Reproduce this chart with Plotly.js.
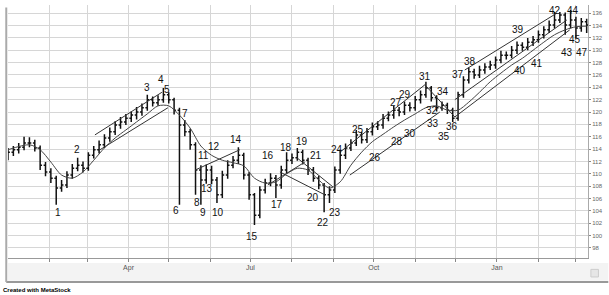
<!DOCTYPE html>
<html><head><meta charset="utf-8">
<script src="https://cdn.plot.ly/plotly-3.0.1.min.js"></script>
<style>body{margin:0;background:#fff}#c{width:609px;height:295px}</style>
</head><body><div id="c"></div>
<script>
// Bars: day index (days since 1 Jan) and OHLC prices
const days = [0,4,8,12,16,20,24,28,32,36,40,44,48,52,56,60,64,68,72,76,80,84,88,92,96,100,104,108,112,116,120,124,128,132,136,140,144,148,152,156,160,164,168,172,176,180,184,188,192,196,200,204,208,212,216,220,224,228,232,236,240,244,248,252,256,260,264,268,272,276,280,284,288,292,296,300,304,308,312,316,320,324,328,332,336,340,344,348,352,356,360,364,368,372,376,380,384,388,392,396,400,404,408,412,416,420,424,428,432];
const opens = [113.0,113.5,113.9,114.3,115.0,115.0,114.2,111.4,110.3,109.3,107.7,108.2,109.8,110.9,111.4,110.9,113.0,113.9,114.7,115.8,116.8,117.9,118.4,119.0,119.5,120.0,120.7,122.0,121.5,122.0,122.8,122.0,120.3,117.9,116.8,114.7,110.6,109.0,110.6,109.0,106.6,109.8,111.4,112.2,113.0,109.8,106.6,103.3,107.4,108.5,109.3,108.2,110.6,112.2,112.6,113.5,112.2,110.6,109.3,108.2,106.6,107.4,110.6,113.0,114.2,115.0,116.3,115.5,116.8,117.6,117.9,119.0,119.5,120.3,120.0,121.1,120.7,122.0,122.8,123.9,122.3,120.7,121.1,120.3,119.0,122.8,125.2,126.5,126.0,126.8,127.3,127.6,128.4,129.2,129.2,130.0,130.8,130.5,131.3,131.7,132.5,133.3,134.1,134.9,135.7,134.1,134.9,133.6,134.6];
const highs = [114.2,114.5,115.0,116.0,115.9,115.5,114.6,111.9,110.9,109.7,109.0,110.4,111.6,112.6,112.0,113.5,114.5,115.4,116.4,117.5,118.5,119.2,119.7,120.1,120.8,121.4,122.8,122.5,122.7,123.9,123.2,122.3,120.7,118.7,117.3,115.1,111.4,111.5,111.3,109.5,110.5,112.2,112.9,114.3,113.4,110.3,106.9,108.0,109.2,110.1,109.8,111.3,113.5,113.3,114.2,113.9,112.6,111.1,109.7,108.5,108.0,111.2,113.9,114.9,115.6,117.1,116.8,117.4,118.3,118.5,119.7,120.1,121.0,120.8,121.7,121.6,122.6,123.5,124.9,124.2,122.7,121.7,121.5,120.7,123.3,125.8,127.2,127.0,127.5,127.9,128.3,129.0,129.9,129.8,130.7,131.4,131.3,132.0,132.3,133.2,133.9,134.8,136.2,136.2,136.1,136.5,135.4,135.2,135.1];
const lows = [112.2,112.9,113.3,113.8,114.3,113.6,110.6,109.6,108.5,105.0,107.1,107.7,109.2,110.4,110.2,110.5,112.5,113.3,114.2,115.2,116.3,117.3,117.9,118.4,118.8,119.4,120.2,120.9,121.0,121.5,121.4,119.6,105.0,116.1,113.9,106.6,105.0,108.4,108.3,105.3,106.1,109.2,110.9,111.6,109.1,105.8,101.7,102.8,106.8,108.0,106.1,107.6,110.1,111.6,112.1,111.5,109.8,108.7,107.5,103.8,105.3,106.9,110.0,112.4,113.7,114.5,114.9,115.0,116.2,117.1,117.3,118.5,118.9,119.3,119.5,120.1,120.2,121.4,122.3,121.7,120.1,120.2,119.7,118.4,118.6,122.3,124.6,125.4,125.5,126.2,126.8,127.0,127.9,128.5,128.7,129.4,129.9,130.0,130.7,131.2,131.9,132.8,133.5,134.4,132.5,133.5,132.0,133.0,132.8];
const closes = [113.5,113.9,114.3,115.0,115.0,114.2,111.4,110.3,109.3,107.7,108.2,109.8,110.9,111.4,110.9,113.0,113.9,114.7,115.8,116.8,117.9,118.4,119.0,119.5,120.0,120.7,122.0,121.5,122.0,122.8,122.0,120.3,117.9,116.8,114.7,110.6,109.0,110.6,109.0,106.6,109.8,111.4,112.2,113.0,109.8,106.6,103.3,107.4,108.5,109.3,108.2,110.6,112.2,112.6,113.5,112.2,110.6,109.3,108.2,106.6,107.4,110.6,113.0,114.2,115.0,116.3,115.5,116.8,117.6,117.9,119.0,119.5,120.3,120.0,121.1,120.7,122.0,122.8,123.9,122.3,120.7,121.1,120.3,119.0,122.8,125.2,126.5,126.0,126.8,127.3,127.6,128.4,129.2,129.2,130.0,130.8,130.5,131.3,131.7,132.5,133.3,134.1,134.9,135.7,134.1,134.9,133.6,134.6,134.1];

// Moving average
const maDays = [0,16,24,32,40,48,56,64,72,80,88,96,104,112,120,128,136,144,152,160,168,176,184,192,200,208,216,224,232,240,248,256,264,272,280,288,296,304,312,320,328,336,344,352,360,368,376,384,392,400,408,416,424,432];
const maVals = [113.9,114.7,113.9,111.9,109.8,109.3,110.3,112.2,114.2,115.8,117.1,118.4,119.7,121.0,121.0,119.5,117.4,114.5,113.0,112.2,111.8,111.3,109.3,108.5,108.7,110.0,110.9,110.6,109.0,107.7,108.7,111.4,113.5,115.2,116.4,117.6,118.7,119.7,120.7,121.0,120.3,120.3,121.6,123.2,124.9,126.3,127.6,128.7,130.0,131.3,132.5,133.3,133.8,133.9];

// Trend lines: start/end day and price
const tlDay0 = [64.9,68.7,139.6,194,215.7,203,247.8,255.2,311.2,341,333.6,333.6];
const tlDay1 = [114.9,119.4,173.1,221.6,242.5,236.6,311.2,322.4,333.6,409.7,417.2,419.4];
const tlP0 = [116.3,113.9,110.6,108.2,112.6,110.3,113.5,109.8,124.4,126.8,122.0,119.2];
const tlP1 = [123.2,120.7,113.9,111.9,107.9,106.6,124.4,120.0,119.2,136.0,134.9,133.3];

// Wave labels
const lblText = ['1','2','3','4','5','6','7','8','9','10','11','12','13','14','15','16','17','18','19','20','21','22','23','24','25','26','27','28','29','30','31','32','33','34','35','36','37','38','39','40','41','42','43','44','45','47'];
const lblDay = [37.3,51.5,103.7,114.2,118.7,125.4,132.1,141,145.5,156.7,146,153.7,148.5,170.1,182,194,200.7,207.5,219.4,227.6,230,235,244,245.5,261.2,273.9,289.6,290.3,296.3,300,311.2,316.4,317.2,324.6,325.4,331.3,335.8,344.8,380.6,382.1,394.8,408.2,417.2,421.6,423.1,428.5];
const lblPrice = [103.8,113.9,123.9,125.2,123.7,104.1,119.8,105.3,103.8,103.8,113.0,114.5,107.6,115.5,99.9,113.0,105.0,114.2,115.3,106.1,113.0,102.2,103.8,113.9,117.1,112.7,121.5,115.3,122.8,116.6,125.7,120.3,118.1,123.4,116.1,117.7,126.0,128.1,133.3,126.8,127.9,136.5,129.7,136.5,131.7,129.7];

// Axis ticks
const monthDays = [31,59,90,120,151,181,212,243,273,304,334,365,396,424];
const monthText = ['','','Apr','','','Jul','','','Oct','','','Jan','',''];
const priceTicks = [98,100,102,104,106,108,110,112,114,116,118,120,122,124,126,128,130,132,134,136];

const tlx = [], tly = [];
for (let i = 0; i < tlDay0.length; i++) { tlx.push(tlDay0[i], tlDay1[i], null); tly.push(tlP0[i], tlP1[i], null); }

const traces = [
  {type:'scatter', mode:'lines', x:tlx, y:tly, line:{color:'#333', width:1}, hoverinfo:'skip', showlegend:false, connectgaps:false},
  {type:'scatter', mode:'lines', x:maDays, y:maVals, line:{color:'#444', width:1, shape:'spline', smoothing:0.8}, hoverinfo:'skip', showlegend:false},
  {type:'ohlc', x:days, open:opens, high:highs, low:lows, close:closes, tickwidth:0.35,
   increasing:{line:{color:'#111', width:1.5}}, decreasing:{line:{color:'#111', width:1.5}}, showlegend:false}
];

const annotations = lblText.map((t, i) => ({x:lblDay[i], y:lblPrice[i], xref:'x', yref:'y', text:t, showarrow:false,
  font:{family:'Liberation Sans, Arial, sans-serif', size:10, color:'#111'}, xanchor:'center', yanchor:'middle'}));
annotations.push({xref:'paper', yref:'paper', x:-0.012, y:-0.126, xanchor:'left', yanchor:'middle', showarrow:false,
  text:'<b>Created with MetaStock</b>', font:{family:'Liberation Sans, Arial, sans-serif', size:6, color:'#000'}});

const layout = {
  width:609, height:295, margin:{l:8, r:21, t:5, b:37},
  paper_bgcolor:'#fff', plot_bgcolor:'#fff', showlegend:false,
  xaxis:{type:'linear', range:[0,433], tickmode:'array', tickvals:monthDays, ticktext:monthText,
    ticks:'outside', ticklen:3, tickcolor:'#888', showgrid:true, gridcolor:'#d6d6d6', gridwidth:1,
    showline:true, linecolor:'#999', linewidth:1, zeroline:false,
    tickfont:{family:'Liberation Sans, Arial, sans-serif', size:7, color:'#555'}, rangeslider:{visible:false}, fixedrange:true},
  yaxis:{side:'right', range:[96.38,137.32], tickmode:'array', tickvals:priceTicks,
    ticks:'outside', ticklen:2, tickcolor:'#888', showgrid:true, gridcolor:'#d6d6d6', gridwidth:1,
    showline:true, linecolor:'#aaa', linewidth:1, zeroline:false,
    tickfont:{family:'Liberation Sans, Arial, sans-serif', size:6, color:'#666'}, fixedrange:true},
  shapes:[
    {type:'rect', xref:'paper', yref:'paper', x0:0, x1:1.035, y0:-0.02, y1:-0.09, fillcolor:'#f3f3f3', line:{width:0}, layer:'below'},
    {type:'line', xref:'paper', yref:'paper', x0:-0.003, x1:1.035, y0:-0.095, y1:-0.095, line:{color:'#999', width:2}},
    {type:'line', xref:'paper', yref:'paper', x0:-0.003, x1:-0.003, y0:-0.095, y1:0.99, line:{color:'#aaa', width:2}},
    {type:'rect', xref:'paper', yref:'paper', x0:1.005, x1:1.018, y0:-0.045, y1:-0.075, fillcolor:'#e6e6e6', line:{color:'#ccc', width:1}}
  ],
  annotations:annotations
};
Plotly.newPlot('c', traces, layout, {displayModeBar:false, staticPlot:true});
</script></body></html>
